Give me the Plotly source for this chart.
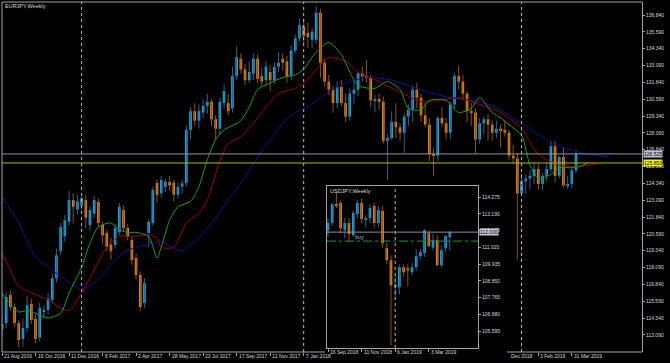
import plotly.graph_objects as go

# ---------------- data : EURJPY weekly (week index 0 = 21 Aug 2016) ----------------
eur_open = [113.50, 113.97, 116.05, 115.16, 113.97, 112.80, 113.60, 115.40, 114.30, 112.90,
            114.80, 114.95, 115.70, 117.30, 119.30, 120.40, 121.50, 123.10, 122.40, 122.70,
            123.10, 121.25, 122.10, 122.96, 121.25, 120.66, 119.80, 119.77, 120.73, 122.36,
            121.03, 120.14, 118.80, 117.54, 115.46, 120.66, 121.40, 124.37, 123.60, 124.07,
            124.45, 124.40, 123.50, 124.10, 124.37, 128.30, 129.70, 129.00, 129.60, 130.10,
            130.40, 129.10, 128.40, 130.30, 130.30, 129.90, 132.30, 133.60, 132.80, 132.00,
            132.50, 133.60, 132.30, 132.00, 132.60, 132.00, 133.00, 133.60, 133.40, 132.30,
            134.20, 135.10, 136.00, 135.50, 135.00, 135.00, 137.00, 133.30, 131.90, 131.30,
            130.30, 131.50, 130.30, 129.30, 131.00, 131.30, 132.50, 132.30, 132.20, 130.50,
            130.60, 130.40, 127.50, 127.70, 128.90, 128.50, 128.10, 129.30, 129.80, 131.30,
            130.70, 129.40, 128.70, 126.50, 126.40, 129.20, 128.80, 128.10, 130.20, 132.30,
            131.90, 131.00, 129.70, 129.60, 127.60, 128.80, 129.10, 128.70, 128.10, 128.40,
            128.30, 128.10, 126.40, 126.20, 123.60, 124.50, 124.70, 124.90, 125.40, 124.30,
            124.90, 125.40, 127.10, 124.90, 126.30, 124.20, 124.30, 125.30]
eur_high = [114.50, 116.30, 116.40, 115.40, 114.20, 114.30, 116.00, 115.80, 114.60, 115.50,
            115.30, 116.20, 117.60, 119.50, 121.40, 122.00, 123.80, 123.60, 123.50, 123.60,
            123.50, 122.60, 123.40, 123.20, 121.50, 120.90, 120.30, 121.30, 122.90, 122.70,
            121.30, 120.40, 119.10, 117.80, 117.30, 121.70, 124.10, 124.60, 124.90, 124.70,
            124.90, 124.60, 124.40, 124.60, 128.60, 130.00, 130.30, 130.20, 130.60, 131.00,
            130.60, 129.40, 130.70, 131.70, 131.00, 133.00, 134.50, 134.00, 133.20, 133.40,
            134.00, 133.90, 132.90, 133.40, 133.10, 133.30, 134.10, 134.00, 133.80, 134.60,
            135.40, 136.60, 136.60, 136.30, 135.90, 137.50, 137.30, 133.60, 132.40, 131.60,
            131.90, 132.00, 131.00, 131.40, 132.00, 132.60, 133.00, 133.50, 132.40, 130.90,
            131.00, 130.80, 128.00, 129.70, 130.30, 128.80, 129.50, 130.20, 131.60, 131.80,
            131.00, 130.30, 129.20, 127.00, 129.30, 130.00, 129.20, 130.40, 132.50, 133.10,
            132.40, 131.20, 130.30, 129.90, 129.20, 129.30, 129.50, 129.00, 129.00, 128.70,
            129.00, 128.30, 127.20, 126.60, 125.10, 125.00, 125.30, 125.90, 125.80, 125.10,
            125.90, 127.50, 127.50, 126.40, 127.00, 124.90, 125.60, 126.80]
eur_low = [112.90, 113.60, 114.90, 113.70, 112.15, 112.20, 113.30, 113.90, 112.50, 112.60,
           114.30, 114.60, 115.40, 117.00, 119.00, 120.00, 121.20, 121.40, 122.00, 122.40,
           121.00, 120.80, 121.80, 121.10, 119.80, 119.30, 118.70, 119.50, 120.50, 120.80,
           120.10, 118.30, 117.20, 114.85, 115.10, 119.60, 121.20, 122.90, 123.30, 123.70,
           123.80, 123.00, 123.20, 123.60, 124.10, 127.60, 128.60, 128.40, 129.20, 129.50,
           128.60, 127.60, 128.00, 129.90, 129.40, 129.60, 132.00, 132.50, 131.60, 131.80,
           132.00, 131.80, 131.60, 131.60, 131.20, 131.70, 132.60, 132.70, 131.80, 132.00,
           134.00, 134.90, 134.60, 134.40, 134.40, 134.70, 132.20, 131.50, 130.90, 129.60,
           129.90, 130.10, 128.90, 129.00, 130.20, 130.80, 131.90, 131.80, 130.00, 129.60,
           129.80, 127.30, 124.60, 127.60, 127.70, 127.50, 126.60, 128.60, 128.90, 129.90,
           128.90, 128.50, 126.00, 124.90, 126.00, 128.50, 127.60, 127.60, 129.90, 131.30,
           130.50, 128.90, 128.60, 126.60, 127.30, 128.00, 127.50, 127.50, 127.70, 127.00,
           127.80, 126.10, 125.80, 118.70, 123.40, 123.60, 123.90, 124.30, 123.90, 123.80,
           124.50, 125.20, 124.40, 124.70, 124.00, 123.90, 124.00, 125.10]
eur_close = [113.90, 115.90, 115.16, 113.97, 112.71, 113.60, 115.30, 114.20, 112.80, 115.10,
             114.95, 115.80, 117.30, 119.00, 121.10, 121.60, 123.10, 122.60, 123.00, 123.25,
             121.80, 122.36, 123.10, 121.40, 120.50, 119.62, 119.30, 121.03, 122.59, 121.03,
             120.36, 118.65, 117.54, 115.16, 116.94, 121.47, 123.85, 123.48, 124.59, 124.45,
             124.20, 123.50, 124.07, 124.35, 128.30, 129.70, 129.00, 129.70, 130.10, 130.40,
             129.10, 128.40, 130.40, 131.20, 129.70, 132.30, 133.70, 132.80, 132.00, 132.60,
             133.60, 132.10, 131.90, 133.00, 132.00, 133.00, 133.30, 133.30, 132.30, 134.20,
             135.10, 136.10, 135.30, 135.20, 135.60, 137.00, 133.30, 131.90, 131.30, 130.30,
             131.50, 130.30, 129.30, 131.00, 131.30, 132.50, 132.30, 132.20, 130.50, 130.60,
             130.40, 127.50, 127.70, 128.90, 128.50, 128.10, 129.30, 129.80, 131.30, 130.70,
             129.40, 128.70, 126.50, 126.40, 129.20, 128.80, 128.10, 130.20, 132.30, 131.90,
             131.00, 129.70, 129.60, 127.60, 128.80, 129.10, 128.70, 128.10, 128.40, 128.30,
             128.10, 126.40, 126.20, 123.60, 124.50, 124.70, 124.90, 125.40, 124.30, 124.90,
             125.40, 127.10, 124.90, 126.30, 124.20, 124.30, 125.30, 126.525]

# Alligator lines (week index, price)
jaw_idx = [0, 4, 8, 12, 16, 19, 23, 26, 29, 32, 35, 38, 41, 43, 45, 47, 51, 54, 58, 61, 64, 67,
           70, 73, 76, 78, 83, 88, 93, 97, 102, 107, 112, 117, 121, 126, 131, 136, 140, 145]
jaw_val = [123.4, 121.4, 118.9, 117.9, 117.0, 116.5, 117.2, 118.3, 119.2, 119.6, 119.8, 120.0,
           119.5, 119.3, 119.8, 120.3, 121.8, 123.1, 124.8, 126.3, 127.6, 128.8, 129.6, 130.0,
           130.7, 131.1, 131.9, 132.2, 132.0, 131.6, 131.1, 130.7, 130.5, 130.1, 129.4, 128.4,
           127.4, 126.8, 126.5, 126.3]
teeth_idx = [0, 2, 4, 7, 11, 14, 16, 19, 22, 25, 28, 31, 35, 37, 38, 41, 44, 47, 49, 52, 54, 57,
             60, 63, 66, 70, 72, 74, 77, 78, 82, 85, 90, 95, 100, 104, 109, 114, 119, 124, 128,
             133, 138, 142]
teeth_val = [119.2, 117.9, 116.7, 116.2, 115.7, 115.1, 114.9, 116.2, 117.9, 119.6, 120.4, 120.4,
             120.5, 120.3, 119.6, 119.6, 121.4, 122.1, 123.1, 126.0, 127.3, 127.8, 128.8, 130.0,
             131.0, 131.4, 131.8, 132.4, 133.5, 133.7, 133.4, 132.6, 131.9, 131.1, 130.4, 130.5,
             130.7, 130.2, 129.6, 128.4, 126.5, 125.7, 125.6, 125.8]
lips_idx = [0, 1, 4, 6, 8, 11, 14, 16, 19, 21, 23, 26, 28, 30, 32, 35, 37, 38, 40, 42, 45, 47,
            49, 51, 53, 57, 59, 61, 64, 67, 70, 72, 74, 76, 78, 81, 83, 85, 89, 92, 95, 97, 100,
            102, 106, 109, 112, 114, 117, 119, 121, 124, 126, 128, 131, 133, 136, 138, 140]
lips_val = [116.2, 115.7, 114.8, 114.9, 114.7, 114.35, 114.7, 116.2, 118.1, 119.9, 121.1, 121.4,
            120.9, 120.7, 120.7, 120.4, 118.8, 119.6, 121.6, 122.6, 123.0, 124.1, 126.1, 127.6,
            128.3, 129.0, 130.0, 131.3, 131.8, 132.2, 132.4, 132.8, 133.7, 134.4, 134.8, 133.9,
            132.6, 131.6, 131.4, 131.9, 131.3, 129.9, 129.8, 130.5, 130.5, 129.6, 129.9, 130.7,
            129.6, 129.2, 128.7, 127.9, 125.7, 124.7, 125.0, 125.5, 125.5, 125.6, 125.9]

eur_tick_idx = [0, 8, 16, 24, 32, 40, 48, 56, 64, 72, 128, 136]
eur_tick_text = ["21 Aug 2016", "16 Oct 2016", "11 Dec 2016", "5 Feb 2017", "2 Apr 2017",
                 "28 May 2017", "23 Jul 2017", "17 Sep 2017", "12 Nov 2017", "7 Jan 2018",
                 "3 Feb 2019", "31 Mar 2019"]
eur_partial_label_idx = 120
eur_partial_label_text = "Dec 2018"
eur_sep_idx = [19, 72, 124]
eur_price_ticks = [136.84, 135.59, 134.34, 133.09, 131.84, 130.59, 129.34, 128.09, 126.84, 125.59,
                   124.34, 123.09, 121.84, 120.59, 119.34, 118.09, 116.84, 115.59, 114.34, 113.09]
eur_bid = 126.525
eur_hline = 125.853

# ---------------- data : USDJPY weekly inset (index 0 = 16 Sep 2018) ----------------
usd_open = [112.10, 112.60, 113.80, 113.90, 112.13, 112.59, 111.81, 113.17, 113.89, 112.78,
            112.91, 113.69, 112.59, 113.37, 110.96, 110.18, 108.50, 108.43, 109.73, 109.66,
            109.40, 109.73, 110.44, 110.64, 111.94, 111.00, 111.48, 109.86, 110.96, 111.68]
usd_high = [112.90, 113.90, 114.60, 114.00, 112.90, 112.90, 113.40, 114.10, 114.20, 113.10,
            113.80, 113.90, 113.70, 113.70, 111.30, 110.50, 109.20, 109.90, 109.90, 109.90,
            110.00, 110.90, 110.90, 112.20, 112.10, 111.90, 111.80, 111.10, 111.80, 112.10]
usd_low = [111.70, 112.40, 113.56, 111.90, 111.60, 111.35, 111.70, 112.90, 112.60, 112.30,
           112.60, 112.30, 112.30, 111.00, 109.90, 104.66, 107.80, 107.97, 109.10, 108.50,
           109.20, 109.50, 110.20, 110.40, 111.00, 110.80, 109.80, 109.70, 110.70, 110.80]
usd_close = [112.60, 113.80, 113.70, 112.26, 112.59, 111.87, 113.24, 113.89, 112.85, 112.91,
             113.56, 112.59, 113.43, 111.29, 110.18, 108.56, 108.60, 109.73, 109.40, 109.53,
             109.73, 110.44, 110.70, 112.13, 111.09, 111.48, 109.86, 110.83, 111.74, 112.00]
usd_tick_idx = [0, 8, 16, 24]
usd_tick_text = ["16 Sep 2018", "11 Nov 2018", "6 Jan 2019", "3 Mar 2019"]
usd_sep_idx = 16
usd_price_ticks = [114.275, 113.19, 112.105, 111.02, 109.935, 108.85, 107.765, 106.68, 105.595]
usd_bid = 112.00
usd_buy = 111.42

# ---------------- style ----------------
FONT = "Liberation Sans Narrow, Arial Narrow, Liberation Sans, Arial, sans-serif"
FG = "#d8d8d8"
AX = "#a4a4a4"
BULL_BODY = "#1eb4f0"
BEAR_BODY = "#f5901e"
BULL_WICK = "#24658f"
BEAR_WICK = "#8e5212"

W, H = 670, 363
PL, PR, PT, PB = 2, 642, 2, 352          # main plot area in px
PW, PH = PR - PL, PB - PT


def px_x(px):
    return (px - PL) / PW


def px_y(py):
    return (PB - py) / PH


def candles(xs, o, h, l, c, xa, ya, minbody, width):
    up = [ci >= oi for oi, ci in zip(o, c)]
    out = []
    for want, col in ((True, BULL_WICK), (False, BEAR_WICK)):
        wx, wy = [], []
        for i, x in enumerate(xs):
            if up[i] == want:
                wx += [x, x, None]
                wy += [l[i], h[i], None]
        out.append(go.Scatter(x=wx, y=wy, mode="lines", line=dict(color=col, width=1),
                              xaxis=xa, yaxis=ya, hoverinfo="skip", showlegend=False))
    base = [min(oi, ci) for oi, ci in zip(o, c)]
    hgt = [max(abs(ci - oi), minbody) for oi, ci in zip(o, c)]
    cols = [BULL_BODY if u else BEAR_BODY for u in up]
    out.append(go.Bar(x=xs, y=hgt, base=base, width=width,
                      marker=dict(color=cols, line=dict(width=0)),
                      xaxis=xa, yaxis=ya, hoverinfo="skip", showlegend=False))
    return out


fig = go.Figure()

eur_x = list(range(len(eur_close)))
for t in candles(eur_x, eur_open, eur_high, eur_low, eur_close, "x", "y", 0.075, 0.62):
    fig.add_trace(t)

for xs, ys, col in ((jaw_idx, jaw_val, "#12129a"),
                    (teeth_idx, teeth_val, "#a00000"),
                    (lips_idx, lips_val, "#18a018")):
    fig.add_trace(go.Scatter(x=xs, y=ys, mode="lines",
                             line=dict(color=col, width=1, shape="spline", smoothing=0.7),
                             hoverinfo="skip", showlegend=False))

usd_x = list(range(len(usd_close)))
for t in candles(usd_x, usd_open, usd_high, usd_low, usd_close, "x2", "y2", 0.065, 0.62):
    fig.add_trace(t)

PX_PER_WEEK = 4.19
x_range = [0, PW / PX_PER_WEEK]
y_top, y_bot = 136.84 + (15 - PT) / 13.47, 136.84 - (PB - 15) / 13.47

IX0, IX1, IY0, IY1 = 327, 478, 186, 348
INSET_PX_PER_WEEK = 4.2
ix_range = [(IX0 - 328) / INSET_PX_PER_WEEK, (IX1 - 328) / INSET_PX_PER_WEEK]
iy_top = 114.275 + (197 - IY0) / 15.44
iy_bot = 114.275 - (IY1 - 197) / 15.44

tickfont = dict(family=FONT, size=5, color=FG)

fig.update_layout(
    width=W, height=H,
    margin=dict(l=PL, r=W - PR, t=PT, b=H - PB),
    paper_bgcolor="#000000", plot_bgcolor="#000000",
    barmode="overlay", showlegend=False,
    xaxis=dict(domain=[0, 1], range=x_range, showgrid=False, zeroline=False, showline=False,
               ticks="outside", ticklen=3, tickcolor=AX, tickvals=eur_tick_idx,
               showticklabels=False, fixedrange=True, automargin=False),
    yaxis=dict(domain=[0, 1], range=[y_bot, y_top], side="right", showgrid=False,
               zeroline=False, showline=True, linecolor=AX, linewidth=1,
               ticks="outside", ticklen=2, tickcolor=AX, tickvals=eur_price_ticks,
               ticktext=[f"{v:.3f}" for v in eur_price_ticks], tickfont=tickfont,
               fixedrange=True, automargin=False),
    xaxis2=dict(domain=[px_x(IX0), px_x(IX1)], anchor="y2", range=ix_range, showgrid=False,
                zeroline=False, showline=True, mirror=True, linecolor=AX, linewidth=1,
                ticks="outside", ticklen=3, tickcolor=AX, tickvals=usd_tick_idx,
                showticklabels=False, fixedrange=True, automargin=False),
    yaxis2=dict(domain=[px_y(IY1), px_y(IY0)], anchor="x2", range=[iy_bot, iy_top],
                side="right", showgrid=False, zeroline=False, showline=True, mirror=True,
                linecolor=AX, linewidth=1, ticks="outside", ticklen=2, tickcolor=AX,
                tickvals=usd_price_ticks, ticktext=[f"{v:.3f}" for v in usd_price_ticks],
                tickfont=tickfont, fixedrange=True, automargin=False),
)

shapes = []
frame = AX
shapes.append(dict(type="line", xref="paper", yref="paper", x0=0, x1=1, y0=1, y1=1,
                   line=dict(color=frame, width=1), layer="above"))
shapes.append(dict(type="line", xref="paper", yref="paper", x0=0, x1=0, y0=0, y1=1,
                   line=dict(color=frame, width=1), layer="above"))
shapes.append(dict(type="line", xref="paper", yref="paper", x0=0, x1=px_x(325), y0=0, y1=0,
                   line=dict(color=frame, width=1), layer="above"))
shapes.append(dict(type="line", xref="paper", yref="paper", x0=px_x(507), x1=1, y0=0, y1=0,
                   line=dict(color=frame, width=1), layer="above"))
for s in eur_sep_idx:
    shapes.append(dict(type="line", xref="x", yref="paper", x0=s, x1=s, y0=0, y1=1,
                       line=dict(color="#b8b8b8", width=1, dash="dot"), layer="above"))
shapes.append(dict(type="line", xref="x2", yref="paper", x0=usd_sep_idx, x1=usd_sep_idx,
                   y0=px_y(IY1), y1=px_y(IY0),
                   line=dict(color="#b8b8b8", width=1, dash="dot"), layer="above"))
shapes.append(dict(type="line", xref="paper", yref="y", x0=0, x1=1, y0=eur_bid, y1=eur_bid,
                   line=dict(color="#9a92a4", width=1), layer="above"))
shapes.append(dict(type="line", xref="paper", yref="y", x0=0, x1=1, y0=eur_hline, y1=eur_hline,
                   line=dict(color="#b8b800", width=1), layer="above"))
shapes.append(dict(type="line", xref="paper", yref="y2", x0=px_x(IX0), x1=px_x(IX1),
                   y0=usd_bid, y1=usd_bid, line=dict(color="#8e8ea0", width=1), layer="above"))
shapes.append(dict(type="line", xref="paper", yref="y2", x0=px_x(IX0), x1=px_x(IX1),
                   y0=usd_buy, y1=usd_buy, line=dict(color="#1c9a1c", width=1, dash="dashdot"),
                   layer="above"))
fig.update_layout(shapes=shapes)

ann = []
small = dict(family=FONT, size=5, color=FG)
ann.append(dict(text="EURJPY,Weekly", xref="paper", yref="paper", x=px_x(3), y=px_y(5.5),
                xanchor="left", yanchor="middle", showarrow=False,
                font=dict(family=FONT, size=5.5, color=FG)))
ann.append(dict(text="USDJPY,Weekly", xref="paper", yref="paper", x=px_x(328), y=px_y(191.5),
                xanchor="left", yanchor="middle", showarrow=False,
                font=dict(family=FONT, size=5.5, color=FG)))
for i, t in zip(eur_tick_idx, eur_tick_text):
    ann.append(dict(text=t, xref="x", yref="paper", x=i, y=px_y(355.5), xanchor="left",
                    yanchor="middle", xshift=0, showarrow=False, font=small))
ann.append(dict(text=eur_partial_label_text, xref="x", yref="paper", x=eur_partial_label_idx,
                y=px_y(355.5), xanchor="left", yanchor="middle", xshift=4, showarrow=False,
                font=small))
for i, t in zip(usd_tick_idx, usd_tick_text):
    ann.append(dict(text=t, xref="x2", yref="paper", x=i, y=px_y(352.5), xanchor="left",
                    yanchor="middle", xshift=0, showarrow=False, font=small))
ann.append(dict(text=f"{eur_bid:.3f}", xref="paper", yref="y", x=1, y=eur_bid, xanchor="left",
                yanchor="middle", xshift=1, showarrow=False, bgcolor="#c6bed2", borderpad=0,
                font=dict(family=FONT, size=5, color="#000000")))
ann.append(dict(text=f"{eur_hline:.3f}", xref="paper", yref="y", x=1, y=eur_hline,
                xanchor="left", yanchor="middle", xshift=1, showarrow=False, bgcolor="#f0f000",
                borderpad=0, font=dict(family=FONT, size=5, color="#000000")))
ann.append(dict(text=f"{usd_bid:.3f}", xref="paper", yref="y2", x=px_x(IX1), y=usd_bid,
                xanchor="left", yanchor="middle", xshift=1, showarrow=False, bgcolor="#c6c6d2",
                borderpad=0, font=dict(family=FONT, size=5, color="#000000")))
ann.append(dict(text="buy", xref="x2", yref="y2", x=6, y=usd_buy, xanchor="left",
                yanchor="bottom", yshift=-1, showarrow=False,
                font=dict(family=FONT, size=5.5, color="#b0b0b0")))
fig.update_layout(annotations=ann)

fig.write_html("out.html", config={"displayModeBar": False},
               post_script="document.body.style.margin='0px';document.body.style.overflow='hidden';")
